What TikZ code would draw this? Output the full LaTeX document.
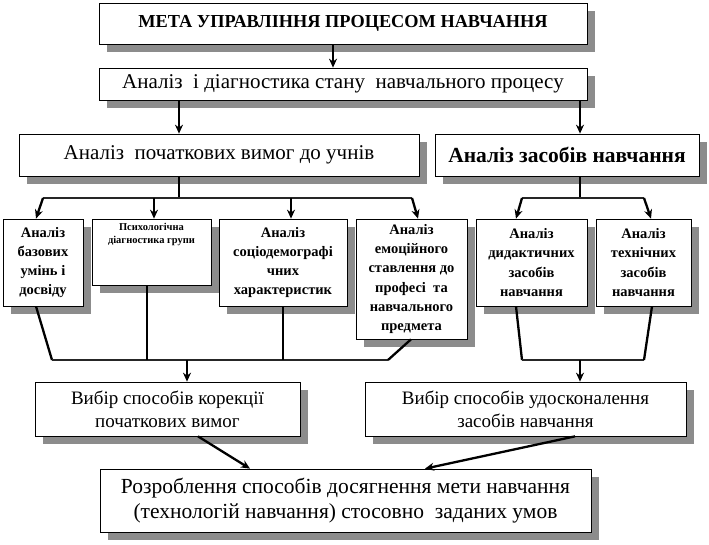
\documentclass[tikz,border=0pt]{standalone}
\usepackage{fontspec}
\setmainfont{Liberation Serif}
\usetikzlibrary{shadows,arrows.meta}
\tikzset{
  box/.style={draw=black, line width=0.7pt, fill=white, inner sep=0pt, align=center,
    drop shadow={shadow xshift=8pt, shadow yshift=-8pt, fill=black!45, opacity=1}},
  small/.style={font=\fontsize{14.5}{19.3}\selectfont\bfseries},
  link/.style={line width=2.3pt, black},
  branch/.style={line width=1.8pt, black!85},
  arr/.style={line width=2.3pt, black, -{Stealth[length=9pt,width=8pt]}},
}
\begin{document}
\begin{tikzpicture}[x=1pt,y=-1pt]
\useasboundingbox (0,0) rectangle (709,545);
\fill[white] (0,0) rectangle (709,545);

% boxes
\node[box, minimum width=488, minimum height=41, font=\fontsize{18.3}{20}\selectfont\bfseries] (top) at (343,23.5) {МЕТА УПРАВЛІННЯ ПРОЦЕСОМ НАВЧАННЯ};
\node[box, minimum width=488, minimum height=32, font=\fontsize{21}{24}\selectfont] (b2) at (343,84) {Аналіз\ \ і діагностика стану\ \ навчального процесу};
\node[box, minimum width=400, minimum height=42, font=\fontsize{21}{24}\selectfont] (b3) at (219,155) {Аналіз\ \ початкових вимог до учнів};
\node[box, minimum width=264, minimum height=42, font=\fontsize{21.5}{24}\selectfont\bfseries] (b4) at (567,155) {Аналіз засобів навчання};

\node[box, small, minimum width=80, minimum height=87] (A) at (43,262.5) {Аналіз\\базових\\умінь і\\досвіду};
\node[box, minimum width=119, minimum height=66] (B) at (151.5,252) {};
\node[anchor=north, align=center, inner sep=0pt, font=\fontsize{10.5}{13}\selectfont\bfseries] (Bt) at ([yshift=-4pt]B.north) {Психологічна\\діагностика групи};
\node[box, small, minimum width=128, minimum height=87] (C) at (283,262.5) {Аналіз\\соціодемографі\\чних\\характеристик};
\node[box, small, minimum width=111, minimum height=120] (D) at (411.5,279) {Аналіз\\емоційного\\ставлення до\\професі\ \ та\\навчального\\предмета};
\node[box, small, minimum width=111, minimum height=87] (E) at (531.5,262.5) {Аналіз\\дидактичних\\засобів\\навчання};
\node[box, small, minimum width=95, minimum height=87] (F) at (643.5,262.5) {Аналіз\\технічних\\засобів\\навчання};

\node[box, minimum width=265, minimum height=54, font=\fontsize{19}{23}\selectfont] (G) at (167.5,409) {Вибір способів корекції\\початкових вимог};
\node[box, minimum width=321, minimum height=54, font=\fontsize{19}{23}\selectfont] (H) at (525.5,409) {Вибір способів удосконалення\\засобів навчання};
\node[box, minimum width=491, minimum height=63, font=\fontsize{21.5}{25}\selectfont] (I) at (345.5,500.5) {Розроблення способів досягнення мети навчання\\(технологій навчання) стосовно\ \ заданих умов};

% guide coordinates
\coordinate (v1) at (333,0);
\coordinate (v2) at (179,0);
\coordinate (v3) at (580,0);
\coordinate (k1) at (179,198);
\coordinate (kL) at (43,198);
\coordinate (kR) at (412,198);
\coordinate (k2) at (580,198);
\coordinate (kL2) at (522,198);
\coordinate (kR2) at (644,198);
\coordinate (mL) at (52,360);
\coordinate (mR) at (388,360);
\coordinate (m1) at (187,360);
\coordinate (mL2) at (522,360);
\coordinate (mR2) at (644,360);
\coordinate (m2) at (580,360);

% top connectors
\draw[arr] (top.south -| v1) -- (b2.north -| v1);
\draw[arr] (b2.south -| v2) -- (b3.north -| v2);
\draw[arr] (b2.south -| v3) -- (b4.north -| v3);

% left branch
\draw[link] (b3.south -| k1) -- (k1);
\draw[branch] (kL) -- (kR);
\draw[arr] (kL) -- ([xshift=-7pt]A.north);
\draw[arr] ([xshift=2.5pt]B.north |- kL) -- ([xshift=2.5pt]B.north);
\draw[arr] ([xshift=8pt]C.north |- kL) -- ([xshift=8pt]C.north);
\draw[arr] (kR) -- ([xshift=6.5pt]D.north);

% right branch
\draw[link] (b4.south -| k2) -- (k2);
\draw[branch] (kL2) -- (kR2);
\draw[arr] (kL2) -- ([xshift=-15.5pt]E.north);
\draw[arr] (kR2) -- ([xshift=7.5pt]F.north);

% left join
\draw[link] ([xshift=-7pt]A.south) -- (mL);
\draw[branch] (mL) -- (mR);
\draw[link] (mR) -- ([xshift=-0.5pt]D.south);
\draw[link] ([xshift=-4.5pt]B.south) -- ([xshift=-4.5pt]B.south |- mL);
\draw[link] (C.south) -- (C.south |- mL);
\draw[arr] (m1) -- (G.north -| m1);

% right join
\draw[link] ([xshift=-15.5pt]E.south) -- (mL2);
\draw[branch] (mL2) -- (mR2);
\draw[link] (mR2) -- ([xshift=8.5pt]F.south);
\draw[arr] (m2) -- (H.north -| m2);

% to final
\draw[arr] ([xshift=30.5pt]G.south) -- ([xshift=-95.5pt]I.north);
\draw[arr] ([xshift=49.5pt]H.south) -- ([xshift=79.5pt]I.north);
\end{tikzpicture}
\end{document}
